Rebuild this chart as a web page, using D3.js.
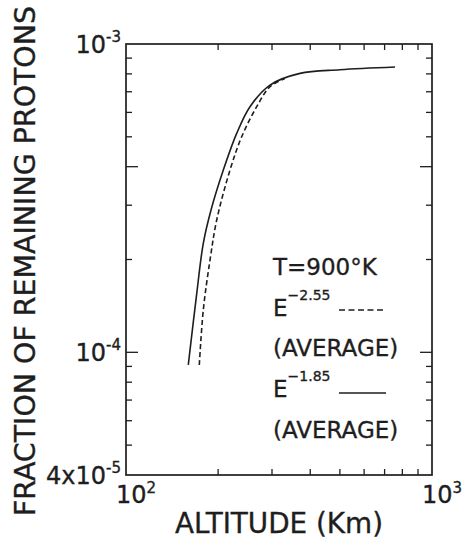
<!DOCTYPE html>
<html>
<head>
<meta charset="utf-8">
<script src="https://cdn.jsdelivr.net/npm/d3@7"></script>
<style>
  body { margin: 0; background: #fff; }
  text { font-family: "DejaVu Sans", sans-serif; fill: #1e1e1e; stroke: #1e1e1e; stroke-width: 0.35; }
</style>
</head>
<body>
<div id="chart"></div>
<script>
var width = 462;
var height = 539;

// altitude (km) and fraction of remaining protons
var altSolid = [159.8, 170.3, 178.9, 189.6, 208, 230, 254.2, 295.5, 370.4, 500, 757];
var fracSolid = [9.1e-5, 1.554e-4, 2.257e-4, 2.894e-4, 3.9e-4, 5.13e-4, 6.26e-4, 7.36e-4, 8.03e-4, 8.25e-4, 8.42e-4];
var altDashed = [173.6, 178.9, 188.2, 197.9, 218.7, 238.8, 267.4, 295.5, 330];
var fracDashed = [9.1e-5, 1.372e-4, 1.993e-4, 2.686e-4, 3.9e-4, 5.0e-4, 6.26e-4, 7.27e-4, 7.72e-4];

var xMinorTicks = [200, 300, 400, 500, 600, 700, 800, 900];
var yMinorTicks = [5e-5, 6e-5, 7e-5, 8e-5, 9e-5, 2e-4, 3e-4, 5e-4, 6e-4, 7e-4, 8e-4, 9e-4];
var yMajorTicks = [1e-4, 4e-4];
var yLabelValues = [1e-3, 1e-4, 4e-5];
var yLabelBase = ["10", "10", "4x10"];
var yLabelExp = ["-3", "-4", "-5"];
var xLabelValues = [100, 1000];
var xLabelBase = ["10", "10"];
var xLabelExp = ["2", "3"];

var legendLines = ["T=900\u00b0K", "E", "(AVERAGE)", "E", "(AVERAGE)"];
var legendExp = ["", "\u22122.55", "", "\u22121.85", ""];

var pLeft = 126, pRight = 432, pTop = 44, pBottom = 475;
var ink = "#1e1e1e";

var x = d3.scaleLog().domain([100, 1000]).range([pLeft, pRight]);
var y = d3.scaleLog().domain([4e-5, 1e-3]).range([pBottom, pTop]);

var svg = d3.select("#chart")
    .append("svg")
    .attr("width", width)
    .attr("height", height);

// frame
svg.append("rect")
    .attr("x", pLeft)
    .attr("y", pTop)
    .attr("width", pRight - pLeft)
    .attr("height", pBottom - pTop)
    .attr("fill", "none")
    .attr("stroke", ink)
    .attr("stroke-width", 1.7);

// x ticks, on top and bottom, pointing inward
var xt = svg.append("g").attr("stroke", ink).attr("stroke-width", 1.3);
xMinorTicks.forEach(function(v) {
    xt.append("line").attr("x1", x(v)).attr("x2", x(v)).attr("y1", pTop).attr("y2", pTop + 6);
    xt.append("line").attr("x1", x(v)).attr("x2", x(v)).attr("y1", pBottom).attr("y2", pBottom - 6);
});

// y ticks, left and right
var yt = svg.append("g").attr("stroke", ink).attr("stroke-width", 1.3);
yMinorTicks.concat(yMajorTicks).forEach(function(v) {
    var len = yMajorTicks.indexOf(v) >= 0 ? 12 : 6;
    yt.append("line").attr("x1", pLeft).attr("x2", pLeft + len).attr("y1", y(v)).attr("y2", y(v));
    yt.append("line").attr("x1", pRight).attr("x2", pRight - len).attr("y1", y(v)).attr("y2", y(v));
});

// y tick labels
yLabelValues.forEach(function(v, i) {
    var t = svg.append("text")
        .attr("x", 121)
        .attr("y", y(v) + 9)
        .attr("text-anchor", "end")
        .attr("font-size", 24);
    t.append("tspan").text(yLabelBase[i]);
    t.append("tspan").attr("dy", -11).attr("font-size", 15).text(yLabelExp[i]);
});

// x tick labels
xLabelValues.forEach(function(v, i) {
    var t = svg.append("text")
        .attr("x", x(v) - 10)
        .attr("y", 503)
        .attr("font-size", 24);
    t.append("tspan").text(xLabelBase[i]);
    t.append("tspan").attr("dy", -10).attr("font-size", 15).text(xLabelExp[i]);
});

// axis titles
svg.append("text")
    .attr("x", 175)
    .attr("y", 533)
    .attr("font-size", 28)
    .attr("textLength", 208)
    .attr("lengthAdjust", "spacingAndGlyphs")
    .text("ALTITUDE (Km)");

svg.append("text")
    .attr("transform", "translate(35,261) rotate(-90)")
    .attr("text-anchor", "middle")
    .attr("font-size", 28)
    .attr("textLength", 510)
    .attr("lengthAdjust", "spacingAndGlyphs")
    .text("FRACTION OF REMAINING PROTONS");

// curves
var line = d3.line()
    .x(function(d) { return x(d[0]); })
    .y(function(d) { return y(d[1]); })
    .curve(d3.curveCatmullRom.alpha(0.5));

svg.append("path")
    .datum(d3.zip(altSolid, fracSolid))
    .attr("d", line)
    .attr("fill", "none")
    .attr("stroke", ink)
    .attr("stroke-width", 1.6);

svg.append("path")
    .datum(d3.zip(altDashed, fracDashed))
    .attr("d", line)
    .attr("fill", "none")
    .attr("stroke", ink)
    .attr("stroke-width", 1.6)
    .attr("stroke-dasharray", "5,3");

// legend text
var legendBase = [275, 316, 356, 397, 438];
legendLines.forEach(function(s, i) {
    var t = svg.append("text")
        .attr("x", 273)
        .attr("y", legendBase[i])
        .attr("font-size", 23);
    t.append("tspan").text(s);
    if (legendExp[i]) {
        t.append("tspan").attr("dy", -16).attr("font-size", 14).text(legendExp[i]);
    }
});

// legend samples
svg.append("line")
    .attr("x1", 339).attr("x2", 386).attr("y1", 310).attr("y2", 310)
    .attr("stroke", ink).attr("stroke-width", 1.6)
    .attr("stroke-dasharray", "6,3.5");
svg.append("line")
    .attr("x1", 339).attr("x2", 386).attr("y1", 393).attr("y2", 393)
    .attr("stroke", ink).attr("stroke-width", 1.6);
</script>
</body>
</html>
